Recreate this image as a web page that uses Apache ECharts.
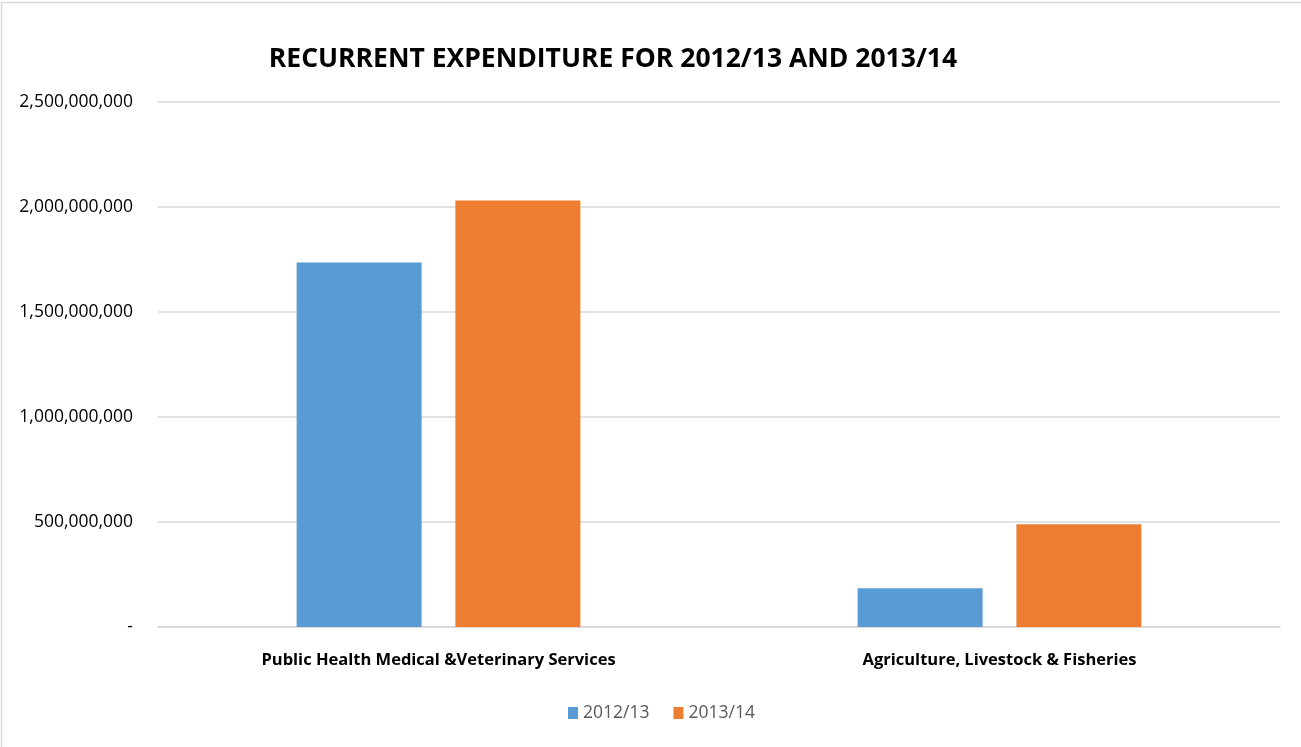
<!DOCTYPE html>
<html><head><meta charset="utf-8">
<script src="https://cdn.jsdelivr.net/npm/echarts@6/dist/echarts.min.js"></script>
<style>html,body{margin:0;padding:0;background:#fff}#c{width:1301px;height:747px}</style>
</head><body><div id="c"></div>
<script>
const categories = ["Public Health Medical &Veterinary Services", "Agriculture, Livestock & Fisheries"];
const seriesNames = ["2012/13", "2013/14"];
const values2012 = [1736000000, 184000000];
const values2013 = [2031000000, 489000000];
const titleText = "RECURRENT EXPENDITURE FOR 2012/13 AND 2013/14";

const chart = echarts.init(document.getElementById('c'));
const fmt = v => v === 0 ? '-' : v.toString().replace(/\B(?=(\d{3})+(?!\d))/g, ',');
chart.setOption({
  animation: false,
  title: {
    text: titleText, left: 608, top: 41, textAlign: 'center',
    textStyle: {fontFamily: 'Open Sans', fontWeight: 'bold', fontSize: 26.5, color: '#000'}
  },
  graphic: [{type: 'rect', shape: {x: 1.5, y: 2.5, width: 1310, height: 760}, style: {fill: null, stroke: '#d9d9d9', lineWidth: 1.5}, silent: true}],
  legend: {
    bottom: 20, left: 563, itemWidth: 10, itemHeight: 12, itemGap: 24,
    icon: 'rect',
    textStyle: {fontFamily: 'Open Sans', fontSize: 17.5, color: '#595959'},
    data: seriesNames
  },
  grid: {left: 158, right: 21, top: 102, bottom: 120},
  xAxis: {
    type: 'category', data: categories,
    axisLine: {lineStyle: {color: '#d9d9d9', width: 1.5}},
    axisTick: {show: false},
    axisLabel: {fontFamily: 'Open Sans', fontWeight: 'bold', fontSize: 16.5, color: '#000', margin: 25}
  },
  yAxis: {
    type: 'value', min: 0, max: 2500000000, interval: 500000000,
    axisLine: {show: false}, axisTick: {show: false},
    splitLine: {lineStyle: {color: '#d9d9d9', width: 1.5}},
    axisLabel: {formatter: fmt, fontFamily: 'Open Sans', fontSize: 17.5, color: '#000', margin: 25}
  },
  series: [
    {name: seriesNames[0], type: 'bar', data: values2012, barWidth: 125, barGap: '27%', itemStyle: {color: '#5b9bd5'}},
    {name: seriesNames[1], type: 'bar', data: values2013, barWidth: 125, itemStyle: {color: '#ed7d31'}}
  ]
});
</script></body></html>
